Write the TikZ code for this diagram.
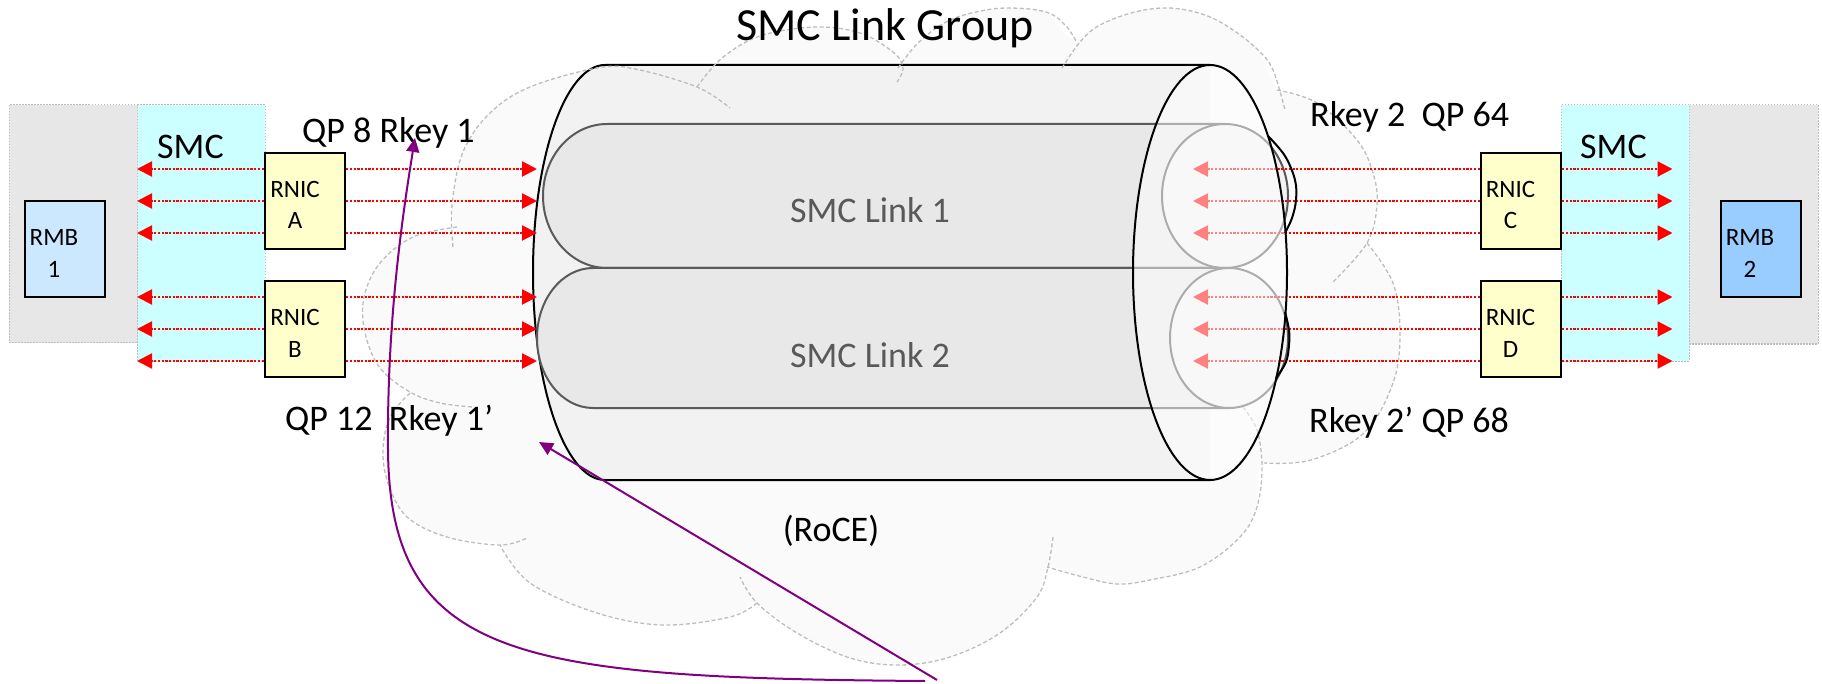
\documentclass[tikz,border=0pt]{standalone}
\usepackage{fontspec}
\setmainfont{Carlito}
\usetikzlibrary{arrows.meta}

\definecolor{hostgray}{HTML}{E7E7E7}
\definecolor{smccyan}{HTML}{CCFFFF}
\definecolor{rnicyellow}{HTML}{FFFFCC}
\definecolor{rmbblueA}{HTML}{CCE8FF}
\definecolor{rmbblueB}{HTML}{99CCFF}
\definecolor{dotgray}{HTML}{BFBFBF}
\definecolor{cloudfill}{HTML}{FAFAFA}
\definecolor{cloudline}{HTML}{BDBDBD}
\definecolor{cylbody}{HTML}{F2F2F2}
\definecolor{linkbody}{HTML}{E8E8E8}
\definecolor{linkline}{HTML}{5A5A5A}
\definecolor{linktext}{HTML}{595959}
\definecolor{arrowred}{HTML}{FF0000}
\definecolor{keypurple}{HTML}{800080}

\begin{document}
\begin{tikzpicture}[x=1pt,y=-1pt,
  hostbox/.style={rectangle, draw=dotgray, fill=hostgray, line width=1pt,
    dash pattern=on 1.5pt off 1.5pt, inner sep=0pt},
  smcbox/.style={hostbox, fill=smccyan},
  rnicbox/.style={rectangle, draw=black, fill=rnicyellow, line width=2.5pt,
    minimum width=80pt, minimum height=96pt, inner sep=0pt},
  rmbbox/.style={rectangle, draw=black, line width=2.5pt,
    minimum width=80pt, minimum height=96pt, inner sep=0pt},
  boxtext/.style={font=\fontsize{25}{31.5}\selectfont, align=center, inner sep=0pt},
  lbl/.style={font=\fontsize{36}{40}\selectfont, inner sep=0pt, anchor=base west},
  linklbl/.style={font=\fontsize{36}{40}\selectfont, text=linktext, inner sep=0pt, anchor=base},
  titlelbl/.style={font=\fontsize{46}{50}\selectfont, inner sep=0pt, anchor=base},
  redarr/.style={draw=arrowred, line width=2.2pt, dash pattern=on 2.2pt off 1.5pt,
    -{Triangle[length=15pt,width=15pt]}},
  purparr/.style={draw=keypurple, line width=2pt,
    -{Triangle[length=14pt,width=13pt]}},
  cloudedge/.style={draw=cloudline, line width=1.3pt, dash pattern=on 4pt off 2.5pt},
  cylline/.style={draw=black, line width=2pt},
  linkline/.style={draw=linkline, line width=2pt}
]
\useasboundingbox (0,0) rectangle (1822,684);

% ---------- hosts and SMC layers ----------
\node[hostbox, minimum width=128.5pt, minimum height=238pt] (hostL) at (73.25,224) {};
\node[smcbox, minimum width=127.5pt, minimum height=256pt] (smcL) at (201.25,233) {};
\node[smcbox, minimum width=128pt, minimum height=256pt] (smcR) at (1625,233) {};
\node[hostbox, minimum width=129pt, minimum height=239pt] (hostR) at (1753.5,224.5) {};

% ---------- RoCE cloud ----------
\fill[cloudfill] plot[smooth cycle, tension=0.5] coordinates {
  (410,392) (380,368) (365,333) (364,297) (380,263) (413,237) (452,228)
  (452,205) (463,152) (490,113) (530,87) (597,68) (635,69) (697,87)
  (722,58) (760,36) (815,27) (860,33) (893,52) (900,64)
  (918,43) (946,22) (976,12) (1008,8) (1046,12) (1070,38)
  (1100,25) (1135,12) (1170,8) (1205,15) (1233,30) (1258,50) (1278,88)
  (1317,103) (1357,140) (1373,173) (1377,205) (1367,243)
  (1393,283) (1400,333) (1393,383) (1364,433) (1311,460) (1262,465)
  (1257,507) (1240,537) (1200,567) (1150,580) (1117,584) (1083,577) (1048,567)
  (1037,597) (1000,633) (950,657) (900,665) (850,658) (797,633) (757,603)
  (730,617) (663,625) (597,613) (530,583) (500,545)
  (447,537) (407,517) (388,483) (383,450) (390,417)};

% ---------- SMC link group cylinder (body) ----------
\fill[cylbody] (605,65) -- (1210,65) -- (1210,480) -- (605,480)
  arc[start angle=90, end angle=270, x radius=72, y radius=207.5] -- cycle;
\draw[cylline] (1210,65) -- (605,65)
  arc[start angle=270, end angle=90, x radius=72, y radius=207.5] -- (1210,480);

% ---------- cloud outline ----------
\draw[cloudedge] plot[smooth, tension=0.6] coordinates {(457,227) (413,237) (380,263) (364,297) (365,333) (380,368) (410,392) (440,403) (473,407)};
\draw[cloudedge] plot[smooth, tension=0.6] coordinates {(453,247) (452,205) (463,152) (490,113) (530,87) (597,68) (635,69) (697,87) (730,108)};
\draw[cloudedge] plot[smooth, tension=0.6] coordinates {(697,87) (722,58) (760,36) (815,27) (860,33) (893,52) (903,68) (897,82)};
\draw[cloudedge] plot[smooth, tension=0.6] coordinates {(898,68) (918,43) (946,22) (976,12) (1008,8) (1046,12) (1066,26) (1077,43)};
\draw[cloudedge] plot[smooth, tension=0.6] coordinates {(1062,68) (1080,42) (1100,25) (1135,12) (1170,8) (1205,15) (1233,30) (1258,50) (1273,70) (1285,110)};
\draw[cloudedge] plot[smooth, tension=0.6] coordinates {(1277,90) (1317,103) (1357,140) (1373,173) (1377,205) (1367,243) (1333,282)};
\draw[cloudedge] plot[smooth, tension=0.6] coordinates {(1367,243) (1393,283) (1400,333) (1393,383) (1364,433) (1311,460) (1264,463)};
\draw[cloudedge] plot[smooth, tension=0.6] coordinates {(1243,407) (1257,430) (1262,467) (1257,507) (1240,537) (1200,567) (1150,580) (1117,584) (1083,577) (1047,567)};
\draw[cloudedge] plot[smooth, tension=0.6] coordinates {(1053,537) (1048,567) (1037,597) (1000,633) (950,657) (900,665) (850,658) (797,633) (757,603) (740,577)};
\draw[cloudedge] plot[smooth, tension=0.6] coordinates {(757,603) (730,617) (663,625) (597,613) (530,583) (500,545)};
\draw[cloudedge] plot[smooth, tension=0.6] coordinates {(410,393) (390,417) (383,450) (388,483) (407,517) (447,537) (500,545) (527,538)};

% ---------- the two SMC links ----------
\path[fill=linkbody] (607,124) -- (1225,124) -- (1225,268) -- (607,268)
  arc[start angle=90, end angle=270, x radius=64, y radius=72] -- cycle;
\draw[linkline] (1225,124) -- (607,124)
  arc[start angle=270, end angle=90, x radius=64, y radius=72] -- (1225,268);
\draw[linkline, fill=cylbody] (1225,196) ellipse[x radius=63, y radius=72];

\path[fill=linkbody] (593,268) -- (1229,268) -- (1229,408) -- (593,408)
  arc[start angle=90, end angle=270, x radius=56, y radius=70] -- cycle;
\draw[linkline] (1229,268) -- (593,268)
  arc[start angle=270, end angle=90, x radius=56, y radius=70] -- (1229,408);
\draw[linkline, fill=cylbody] (1229,338) ellipse[x radius=59, y radius=70];

% ---------- RNICs and RMBs ----------
\node[rnicbox] (rnicA) at (305,201) {};
\node[rnicbox] (rnicB) at (305,329) {};
\node[rnicbox] (rnicC) at (1521,201) {};
\node[rnicbox] (rnicD) at (1521,329) {};
\node[rmbbox, fill=rmbblueA] (rmb1) at (65,249) {};
\node[rmbbox, fill=rmbblueB] (rmb2) at (1761,249) {};

% anchor points for the arrow tips
\coordinate (cylL) at (537,0);
\coordinate (capIn) at (1193,0);
\coordinate (smcRtip) at (1672.5,0);

% ---------- traffic entering the far end (seen through the front face) ----------
\foreach \yy in {169,201,233} {
  \draw[redarr] (rnicC.west |- 0,\yy) -- (capIn |- 0,\yy);
}
\foreach \yy in {297,329,361} {
  \draw[redarr] (rnicD.west |- 0,\yy) -- (capIn |- 0,\yy);
}

% ---------- front face of the link group ----------
\draw[cylline, fill=white, fill opacity=0.5] (1210,272.5) ellipse[x radius=77, y radius=207.5];
\draw[cylline] plot[smooth, tension=0.6] coordinates {(1268,136) (1285,156) (1295,180) (1296,200) (1292,218) (1285,233)};
\draw[cylline] plot[smooth, tension=0.6] coordinates {(1285,312) (1289,330) (1289,345) (1286,362) (1276,378)};

% ---------- remaining traffic arrows ----------
\foreach \yy in {169,201,233} {
  \draw[redarr] (rnicA.west |- 0,\yy) -- (smcL.west |- 0,\yy);
  \draw[redarr] (rnicA.east |- 0,\yy) -- (cylL |- 0,\yy);
  \draw[redarr] (rnicC.east |- 0,\yy) -- (smcRtip |- 0,\yy);
}
\foreach \yy in {297,329,361} {
  \draw[redarr] (rnicB.west |- 0,\yy) -- (smcL.west |- 0,\yy);
  \draw[redarr] (rnicB.east |- 0,\yy) -- (cylL |- 0,\yy);
  \draw[redarr] (rnicD.east |- 0,\yy) -- (smcRtip |- 0,\yy);
}

% ---------- box texts ----------
\node[boxtext] (rnicAt) at (295,205) {RNIC\\A};
\node[boxtext] (rnicBt) at (295,333.5) {RNIC\\B};
\node[boxtext] (rnicCt) at (1510.5,205) {RNIC\\C};
\node[boxtext] (rnicDt) at (1510.5,333.5) {RNIC\\D};
\node[boxtext] (rmb1t) at (54,253.5) {RMB\\1};
\node[boxtext] (rmb2t) at (1750,253.5) {RMB\\2};

% ---------- labels ----------
\node[titlelbl] (title) at (885,41) {SMC Link Group};
\node[lbl] (smcLt) at (157,159) {SMC};
\node[lbl] (smcRt) at (1580,159) {SMC};
\node[lbl] (qp8) at (302,143) {QP 8 Rkey 1};
\node[lbl] (qp12) at (285,430) {QP 12\ \ Rkey 1’};
\node[lbl] (qp64) at (1310,127) {Rkey 2\ \ QP 64};
\node[lbl] (qp68) at (1309,432) {Rkey 2’ QP 68};
\node[lbl, anchor=base] (roce) at (831,541) {(RoCE)};
\node[linklbl] (link1t) at (870,223) {SMC Link 1};
\node[linklbl] (link2t) at (870,367) {SMC Link 2};

% ---------- rkey exchange pointers ----------
\coordinate (srcA) at (925,681);
\coordinate (srcB) at (937,680);
\coordinate (tipQP8) at (415,138);
\coordinate (tipQP12) at (539,442);
\draw[purparr] (srcA) .. controls (520,678) and (390,660) .. (388,450)
  .. controls (387,330) and (400,230) .. (tipQP8);
\draw[purparr] (srcB) -- (tipQP12);
\end{tikzpicture}
\end{document}
